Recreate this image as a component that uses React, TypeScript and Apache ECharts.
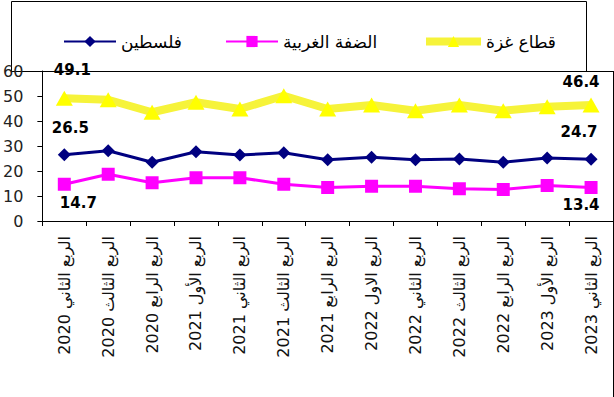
import React, { useEffect, useRef } from "react";
import * as echarts from "echarts";

const categories = [
  "الربع الثاني 2020",
  "الربع الثالث 2020",
  "الربع الرابع 2020",
  "الربع الأول 2021",
  "الربع الثاني 2021",
  "الربع الثالث 2021",
  "الربع الرابع 2021",
  "الربع الاول 2022",
  "الربع الثاني 2022",
  "الربع الثالث 2022",
  "الربع الرابع 2022",
  "الربع الأول 2023",
  "الربع الثاني 2023",
];

const palestine = [26.5, 28.1, 23.5, 27.7, 26.4, 27.3, 24.5, 25.5, 24.5, 24.8, 23.5, 25.2, 24.7];
const westBank = [14.7, 18.7, 15.3, 17.3, 17.3, 14.7, 13.4, 13.9, 13.9, 12.9, 12.6, 14.2, 13.4];
const gaza = [49.1, 48.5, 43.5, 47.5, 44.8, 50.1, 44.8, 46.4, 44.1, 46.4, 44.1, 45.7, 46.4];

const seriesNames = ["فلسطين", "الضفة الغربية", "قطاع غزة"];
const yTicks = { min: 0, max: 60, interval: 10 };

const labelFont = {
  fontFamily: "DejaVu Sans",
  fontWeight: "bold" as const,
  fontSize: 15,
  color: "#000",
};

function withEndLabels(values: number[], firstOffset: number[], lastOffset: number[], pos: string) {
  return values.map((v, i) => {
    if (i === 0) {
      return { value: v, label: { show: true, position: pos, offset: firstOffset, ...labelFont } };
    }
    if (i === values.length - 1) {
      return { value: v, label: { show: true, position: pos, offset: lastOffset, ...labelFont } };
    }
    return v;
  });
}

export default function App() {
  const ref = useRef<HTMLDivElement>(null);

  useEffect(() => {
    if (!ref.current) return;
    const chart = echarts.init(ref.current, null, { renderer: "svg" });
    const legendText = { fontFamily: "DejaVu Sans", fontSize: 17, color: "#000" };
    chart.setOption({
      animation: false,
      backgroundColor: "#fff",
      grid: { left: 42, top: 71, right: 1, bottom: 176, containLabel: false },
      legend: [
        { data: [seriesNames[0]], left: 63, top: 33, padding: 0, itemWidth: 52, itemHeight: 14, textStyle: legendText },
        { data: [seriesNames[1]], left: 225, top: 33, padding: 0, itemWidth: 52, itemHeight: 14, textStyle: legendText },
        {
          data: [seriesNames[2]],
          left: 422,
          top: 33,
          padding: 0,
          itemWidth: 55,
          itemHeight: 14,
          textStyle: legendText,
          lineStyle: { width: 8, color: "#f6f33a" },
        },
      ],
      xAxis: {
        type: "category",
        data: categories,
        boundaryGap: true,
        axisLine: { show: true, lineStyle: { color: "#000", width: 1 } },
        axisTick: { show: true, interval: 0, length: 5, lineStyle: { color: "#000" } },
        axisLabel: {
          interval: 0,
          rotate: 90,
          margin: 15,
          fontFamily: "DejaVu Sans",
          fontSize: 16,
          color: "#111",
        },
        splitLine: { show: false },
      },
      yAxis: {
        type: "value",
        min: yTicks.min,
        max: yTicks.max,
        interval: yTicks.interval,
        axisLine: { show: true, lineStyle: { color: "#000", width: 1 } },
        axisTick: { show: true, length: 5, lineStyle: { color: "#000" } },
        axisLabel: { margin: 19, fontFamily: "DejaVu Sans", fontSize: 16, color: "#222" },
        splitLine: { show: false },
      },
      graphic: [
        {
          type: "rect",
          shape: { x: 11.5, y: 1.5, width: 575, height: 70 },
          style: { fill: "none", stroke: "#000", lineWidth: 1 },
          silent: true,
        },
        {
          type: "line",
          shape: { x1: 11, y1: 71.5, x2: 614, y2: 71.5 },
          style: { stroke: "#000", lineWidth: 1 },
          silent: true,
        },
        {
          type: "line",
          shape: { x1: 613.5, y1: 71, x2: 613.5, y2: 397 },
          style: { stroke: "#000", lineWidth: 1 },
          silent: true,
        },
      ],
      series: [
        {
          name: seriesNames[2],
          type: "line",
          data: withEndLabels(gaza, [8, -8], [-10, -3], "top"),
          symbol: "triangle",
          symbolSize: [17, 15],
          itemStyle: { color: "#ffff00" },
          lineStyle: { color: "#f6f33a", width: 8 },
          z: 2,
        },
        {
          name: seriesNames[1],
          type: "line",
          data: withEndLabels(westBank, [14, 0], [-10, -2], "bottom"),
          symbol: "rect",
          symbolSize: 13,
          itemStyle: { color: "#ff00ff" },
          lineStyle: { color: "#ff00ff", width: 3 },
          z: 3,
        },
        {
          name: seriesNames[0],
          type: "line",
          data: withEndLabels(palestine, [6, -8], [-12, -8], "top"),
          symbol: "diamond",
          symbolSize: 13,
          itemStyle: { color: "#000080" },
          lineStyle: { color: "#000080", width: 3 },
          z: 4,
        },
      ],
    });
    return () => chart.dispose();
  }, []);

  return (
    <div
      ref={ref}
      style={{ position: "fixed", left: 0, top: 0, width: 614, height: 397, background: "#fff" }}
    />
  );
}
